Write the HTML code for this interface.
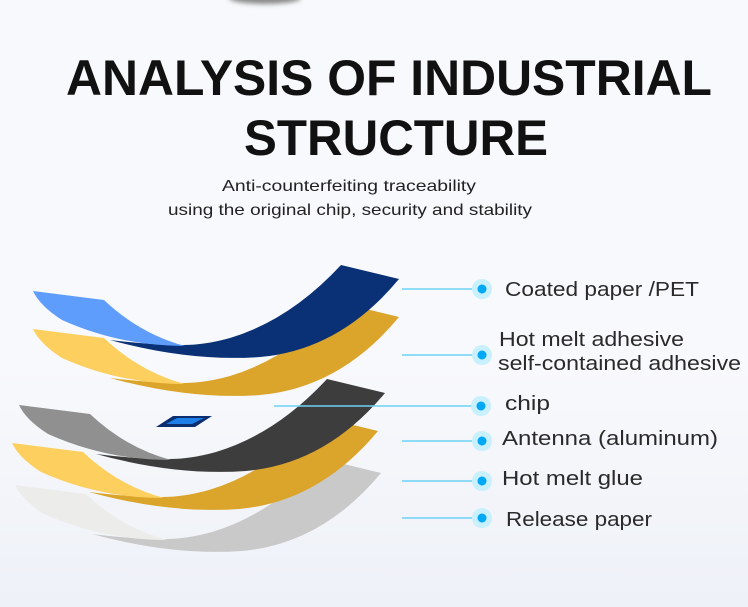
<!DOCTYPE html>
<html><head><meta charset="utf-8"><style>
html,body{margin:0;padding:0}
body{width:748px;height:607px;overflow:hidden;background:linear-gradient(180deg,#f7f9fc 0%,#f8f9fc 60%,#eef1f8 100%);}
svg{display:block}
</style></head><body>
<svg width="748" height="607" viewBox="0 0 748 607" xmlns="http://www.w3.org/2000/svg">
<defs>
<filter id="b" x="-50%" y="-50%" width="200%" height="200%"><feGaussianBlur stdDeviation="2.5"/></filter>
<g id="dark"><path d="M110,340 Q190,362 260,357 Q340,350 399,279 L341,265 Q290,320 230,338 Q205,345 183,345 Q150,345 110,340 Z"/></g>
<g id="light"><path d="M33,291 L104,300 Q140,334 185,346 Q120,346 62,320 Q40,306 33,291 Z"/></g>
</defs>
<ellipse cx="265" cy="-2" rx="36" ry="6" fill="#8a8a8a" filter="url(#b)"/>
<g font-family="'Liberation Sans','DejaVu Sans',sans-serif" text-anchor="middle">
<text x="389" y="95" font-size="50" font-weight="bold" fill="#111" textLength="646" lengthAdjust="spacingAndGlyphs">ANALYSIS OF INDUSTRIAL</text>
<text x="396" y="155" font-size="50" font-weight="bold" fill="#111" textLength="304" lengthAdjust="spacingAndGlyphs">STRUCTURE</text>
<text x="349" y="191" font-size="16" fill="#222" textLength="254" lengthAdjust="spacingAndGlyphs">Anti-counterfeiting traceability</text>
<text x="350" y="215" font-size="16" fill="#222" textLength="364" lengthAdjust="spacingAndGlyphs">using the original chip, security and stability</text>
</g>
<!-- layers -->
<g transform="translate(-18,194)"><use href="#dark" fill="#c9c9c9"/><use href="#light" fill="#ececea"/></g>
<g transform="translate(-21,152)"><use href="#dark" fill="#dba42a"/><use href="#light" fill="#fccf5e"/></g>
<g transform="translate(-14,114)"><use href="#dark" fill="#3d3d3d"/><use href="#light" fill="#909090"/></g>
<g transform="translate(0,38)"><use href="#dark" fill="#dba42a"/><use href="#light" fill="#fccf5e"/></g>
<g><use href="#dark" fill="#0a3175"/><use href="#light" fill="#5f9dfc"/></g>
<!-- chip -->
<polygon points="156,427 173,416 212,416 195,427" fill="#0b2f6e"/>
<polygon points="166,424 177,418 204,418 192,424" fill="#1f7fe8"/>
<!-- lines -->
<g stroke="#6cd2f8" stroke-width="1.6">
<line x1="402" y1="289" x2="472" y2="289"/>
<line x1="402" y1="355" x2="472" y2="355"/>
<line x1="274" y1="406" x2="472" y2="406"/>
<line x1="402" y1="441" x2="472" y2="441"/>
<line x1="402" y1="481" x2="472" y2="481"/>
<line x1="402" y1="518" x2="472" y2="518"/>
</g>
<g>
<circle cx="482" cy="289" r="10" fill="#c8f0fd"/><circle cx="482" cy="289" r="4.5" fill="#00a8f5"/>
<circle cx="482" cy="355" r="10" fill="#c8f0fd"/><circle cx="482" cy="355" r="4.5" fill="#00a8f5"/>
<circle cx="481" cy="406" r="10" fill="#c8f0fd"/><circle cx="481" cy="406" r="4.5" fill="#00a8f5"/>
<circle cx="482" cy="441" r="10" fill="#c8f0fd"/><circle cx="482" cy="441" r="4.5" fill="#00a8f5"/>
<circle cx="482" cy="481" r="10" fill="#c8f0fd"/><circle cx="482" cy="481" r="4.5" fill="#00a8f5"/>
<circle cx="482" cy="518" r="10" fill="#c8f0fd"/><circle cx="482" cy="518" r="4.5" fill="#00a8f5"/>
</g>
<g font-family="'Liberation Sans','DejaVu Sans',sans-serif" font-size="20" fill="#2a2a2a">
<text x="505" y="296" textLength="194" lengthAdjust="spacingAndGlyphs">Coated paper /PET</text>
<text x="499" y="346" textLength="185" lengthAdjust="spacingAndGlyphs">Hot melt adhesive</text>
<text x="498" y="370" textLength="243" lengthAdjust="spacingAndGlyphs">self-contained adhesive</text>
<text x="505" y="410" textLength="45" lengthAdjust="spacingAndGlyphs">chip</text>
<text x="502" y="445" textLength="216" lengthAdjust="spacingAndGlyphs">Antenna (aluminum)</text>
<text x="502" y="485" textLength="141" lengthAdjust="spacingAndGlyphs">Hot melt glue</text>
<text x="506" y="526" textLength="146" lengthAdjust="spacingAndGlyphs">Release paper</text>
</g>
</svg>
</body></html>
